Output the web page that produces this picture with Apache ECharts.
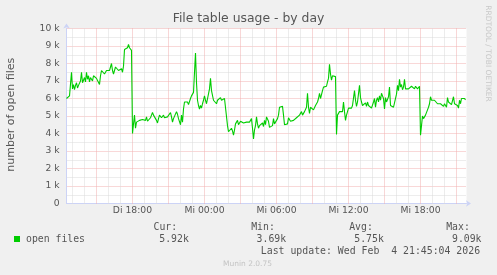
<!DOCTYPE html>
<html><head><meta charset="utf-8">
<script src="https://cdn.jsdelivr.net/npm/echarts@6/dist/echarts.min.js"></script>
<style>html,body{margin:0;padding:0;background:#F0F0F0;}#c{width:497px;height:275px;}</style>
</head><body><div id="c"></div>
<script>
// ---- data ----
const titleText = 'File table usage - by day';
const yAxisName = 'number of open files';
const seriesName = 'open files';
const stepMinutes = 5;            // one sample per 5 minutes
const spanMinutes = 2000;         // Di 12:30 .. Mi 21:50
const firstHourOffset = 30;       // first full hour (13:00) is 30 min after start
// open files, in thousands, one value per 5 minutes starting Di 12:30
const openFilesK = [
 6.0, 5.9, 6.05, 6.15, 6.2, 7.5, 6.55, 6.8, 6.5, 6.75,
 6.9, 6.6, 6.75, 6.7, 7.0, 7.5, 6.9, 6.8, 7.2, 6.95,
 7.5, 7.1, 7.3, 6.95, 7.2, 7.1, 7.0, 7.3, 7.2, 7.25,
 7.15, 7.2, 7.1, 6.8, 7.3, 7.6, 7.5, 7.7, 7.4, 7.45,
 7.6, 7.55, 7.7, 7.6, 7.8, 8.0, 7.6, 7.4, 7.5, 7.8,
 7.7, 7.85, 7.6, 7.7, 7.55, 7.7, 7.5, 7.85, 8.8, 8.9,
 8.7, 8.9, 9.09, 8.9, 8.8, 8.75, 4.0, 4.55, 5.05, 4.3,
 4.65, 4.75, 4.55, 4.75, 4.7, 4.85, 4.8, 4.75, 4.9, 4.75,
 4.95, 4.7, 4.6, 4.75, 4.9, 5.05, 5.2, 5.05, 5.15, 5.05,
 4.75, 4.6, 4.85, 5.05, 5.1, 4.9, 4.95, 5.05, 4.9, 5.0,
 4.85, 4.95, 4.9, 4.85, 5.2, 4.95, 4.65, 4.85, 4.75, 4.95,
 5.25, 5.1, 4.85, 4.95, 4.5, 5.05, 4.65, 5.4, 5.8, 5.9,
 5.7, 5.8, 5.65, 5.55, 6.0, 6.15, 6.05, 6.35, 7.5, 8.6,
 6.9, 5.9, 5.6, 5.4, 5.6, 5.45, 5.7, 5.9, 6.15, 5.9,
 5.7, 5.75, 5.7, 6.55, 7.15, 6.45, 6.4, 5.9, 5.8, 6.0,
 5.7, 5.9, 5.95, 5.8, 6.05, 5.9, 6.0, 5.85, 6.0, 6.05,
 6.0, 4.45, 4.1, 4.2, 4.0, 4.3, 4.15, 3.9, 4.2, 4.55,
 4.6, 4.75, 4.5, 4.6, 4.7, 4.6, 4.7, 4.6, 4.65, 4.6,
 4.65, 4.6, 4.6, 4.65, 4.55, 4.85, 4.3, 3.69, 4.2, 4.45,
 4.95, 4.55, 4.3, 4.45, 4.35, 4.55, 4.6, 4.4, 4.75, 4.5,
 4.95, 5.05, 4.7, 4.35, 4.45, 4.35, 4.45, 4.85, 4.55, 4.45,
 4.55, 4.85, 5.05, 5.5, 5.55, 5.5, 5.55, 5.05, 4.5, 4.4,
 4.45, 4.55, 4.9, 4.85, 4.7, 4.6, 4.7, 4.75, 4.85, 4.75,
 4.9, 4.95, 4.85, 5.05, 4.95, 5.25, 5.05, 5.15, 5.25, 5.35,
 5.5, 6.3, 5.5, 5.15, 5.5, 5.4, 5.5, 5.35, 5.4, 5.6,
 5.5, 5.8, 6.0, 6.3, 6.0, 5.9, 6.45, 6.65, 6.55, 6.75,
 6.7, 6.95, 7.15, 7.95, 7.4, 7.05, 7.3, 7.35, 7.3, 7.25,
 3.95, 5.05, 5.15, 5.25, 5.2, 5.35, 5.25, 5.8, 5.25, 4.75,
 5.05, 5.25, 5.45, 5.35, 5.5, 5.45, 5.6, 5.55, 6.45, 5.9,
 5.55, 5.8, 5.7, 6.75, 6.05, 5.8, 5.6, 5.7, 5.6, 5.75,
 5.55, 5.8, 5.6, 5.7, 5.5, 5.45, 5.5, 5.8, 6.0, 5.5,
 5.9, 6.05, 5.8, 6.15, 5.9, 6.3, 6.15, 6.0, 5.4, 6.05,
 5.8, 5.9, 6.1, 6.65, 5.6, 5.55, 5.6, 5.5, 5.6, 5.55,
 6.25, 6.75, 6.45, 7.1, 6.65, 6.8, 6.5, 6.65, 7.1, 6.55,
 6.5, 6.65, 6.55, 6.65, 6.6, 6.7, 6.65, 6.8, 6.55, 6.7,
 6.65, 6.55, 6.65, 6.7, 3.9, 4.45, 5.0, 4.85, 4.75, 5.05,
 5.15, 5.35, 5.5, 5.7, 6.1, 5.9, 5.8, 5.85, 5.9, 5.95,
 5.8, 5.7, 5.8, 5.75, 5.7, 5.6, 5.65, 5.55, 5.7, 5.7,
 5.5, 6.05, 5.8, 5.7, 5.7, 5.65, 5.7, 6.1, 5.7, 5.8,
 5.7, 5.6, 5.45, 5.9, 5.7, 6.0, 5.95, 6.0, 6.0, 5.92
];
const xLabelValues = [330, 690, 1050, 1410, 1770];   // minutes after start
const xLabelTexts = ['Di 18:00', 'Mi 00:00', 'Mi 06:00', 'Mi 12:00', 'Mi 18:00'];
const statHeads = ['Cur:', 'Min:', 'Avg:', 'Max:'];
const statValues = ['5.92k', '3.69k', '5.75k', '9.09k'];
const lastUpdate = 'Last update: Wed Feb  4 21:45:04 2026';
const versionText = 'Munin 2.0.75';
const watermark = 'RRDTOOL / TOBI OETIKER';

// ---- styling / layout ----
const FONT = '#555555';
const AXIS = '#CCD3F6';
const MGRID = '#F2B0B0';
const GRID = '#DADADA';
const MONO = '"DejaVu Sans Mono", monospace';
const SANS = '"DejaVu Sans", sans-serif';

const hourTicks = [];
for (let m = firstHourOffset; m < spanMinutes; m += 60) hourTicks.push(m);
const isMajor = m => ((m - firstHourOffset) / 60) % 3 === 2;
const minorTicks = hourTicks.filter(m => !isMajor(m));
const majorTicks = hourTicks.filter(isMajor);

const seriesData = openFilesK.map((v, i) => [i * stepMinutes, v * 1000]);

const headX = [153.5, 251.2, 349.2, 446.2];
const valX = [159.3, 256.6, 354.3, 452.0];
const graphics = [];
statHeads.forEach((t, i) => graphics.push({type: 'text', x: headX[i], y: 227.7,
  style: {text: t, font: '9.8px ' + MONO, fill: FONT, verticalAlign: 'middle', align: 'left'}}));
statValues.forEach((t, i) => graphics.push({type: 'text', x: valX[i], y: 239.7,
  style: {text: t, font: '9.8px ' + MONO, fill: FONT, verticalAlign: 'middle', align: 'left'}}));
graphics.push({type: 'text', x: 260.8, y: 251,
  style: {text: lastUpdate, font: '9.85px ' + MONO, fill: FONT, verticalAlign: 'middle', align: 'left'}});
graphics.push({type: 'text', x: 247.5, y: 264.5,
  style: {text: versionText, font: '7.5px ' + SANS, fill: '#C4C4C4', verticalAlign: 'middle', align: 'center'}});
graphics.push({type: 'text', x: 487.5, y: 53.5, rotation: -Math.PI / 2,
  style: {text: watermark, font: '7.5px ' + SANS, fill: '#C8C8C8', verticalAlign: 'middle', align: 'center'}});
graphics.push({type: 'text', x: 11, y: 114.7, rotation: Math.PI / 2,
  style: {text: yAxisName, font: '11px ' + SANS, fill: FONT, verticalAlign: 'middle', align: 'center'}});

const gridLineSeries = (ticks, color) => ({
  type: 'line', data: [], silent: true, z: 1,
  markLine: {silent: true, symbol: ['none', 'none'], animation: false,
    label: {show: false}, emphasis: {disabled: true},
    lineStyle: {color: color, type: [1, 1], width: 1},
    data: ticks.map(v => ({xAxis: v}))}
});

const chart = echarts.init(document.getElementById('c'), null, {renderer: 'canvas'});
chart.setOption({
  animation: false,
  backgroundColor: '#F0F0F0',
  title: {text: titleText, left: 'center', top: 12.3, padding: 0,
    textStyle: {fontFamily: SANS, fontSize: 12.4, fontWeight: 'normal', color: FONT}},
  legend: {data: [seriesName], left: 14, top: 234, padding: 0, itemWidth: 6, itemHeight: 6,
    icon: 'rect', selectedMode: false,
    textStyle: {fontFamily: MONO, fontSize: 9.8, color: FONT, padding: [0, 0, 0, 1]}},
  grid: {left: 66.5, right: 30.5, top: 28.5, bottom: 71.5, show: true,
    backgroundColor: '#FFFFFF', borderWidth: 0, containLabel: false},
  xAxis: {
    type: 'value', min: 0, max: spanMinutes,
    axisLine: {show: true, lineStyle: {color: AXIS, width: 1},
      symbol: ['none', 'arrow'], symbolSize: [5, 5], symbolOffset: [0, 4.5]},
    axisTick: {show: false},
    splitLine: {show: false},
    axisLabel: {customValues: xLabelValues, margin: 3,
      formatter: v => xLabelTexts[xLabelValues.indexOf(v)] || '',
      fontFamily: SANS, fontSize: 9.25, color: FONT}
  },
  yAxis: {
    type: 'value', min: 0, max: 10000, interval: 1000,
    axisLine: {show: true, lineStyle: {color: AXIS, width: 1},
      symbol: ['none', 'arrow'], symbolSize: [5, 5], symbolOffset: [0, 5]},
    axisTick: {show: false},
    axisLabel: {margin: 7, fontFamily: SANS, fontSize: 9.2, color: FONT,
      formatter: v => v === 0 ? '0' : (v / 1000) + ' k'},
    splitLine: {show: true, lineStyle: {color: MGRID, type: [1, 1], width: 1}},
    minorTick: {show: false, splitNumber: 2},
    minorSplitLine: {show: true, lineStyle: {color: GRID, type: [1, 1], width: 1}}
  },
  graphic: graphics,
  series: [
    gridLineSeries(minorTicks, GRID),
    gridLineSeries(majorTicks, MGRID),
    {name: seriesName, type: 'line', data: seriesData, showSymbol: false, symbol: 'none',
      z: 5, color: '#00CC00', lineStyle: {color: '#00CC00', width: 1.1},
      emphasis: {disabled: true}, silent: true}
  ]
});
</script></body></html>
